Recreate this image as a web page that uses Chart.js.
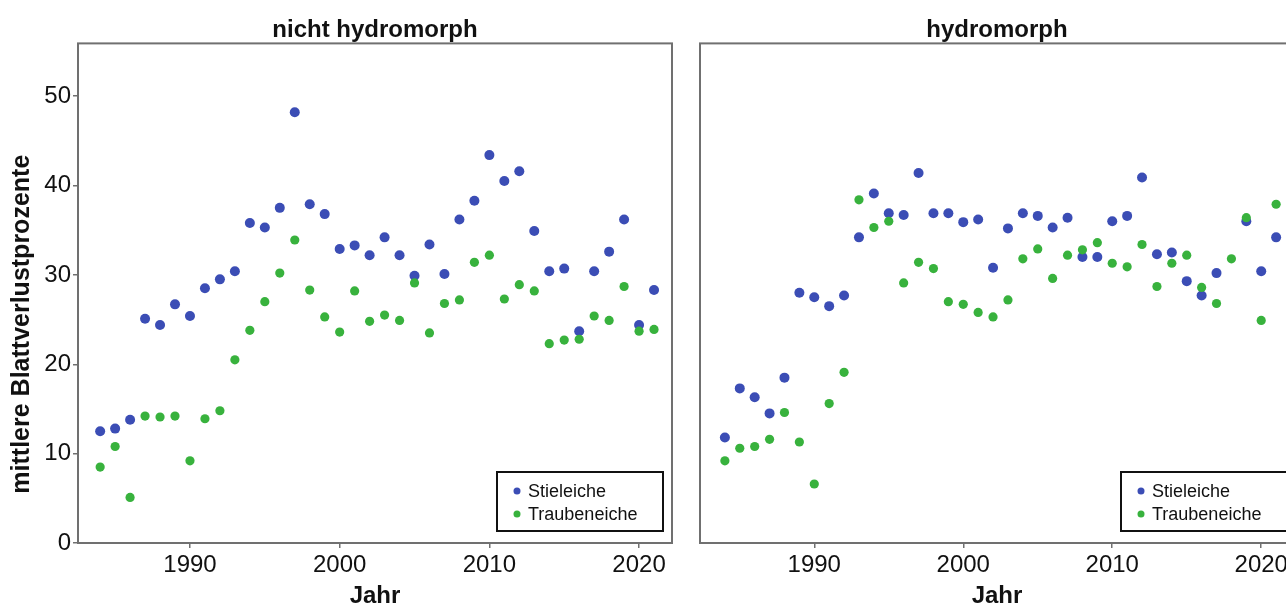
<!DOCTYPE html>
<html lang="de">
<head>
<meta charset="utf-8">
<title>Blattverlust Eichen</title>
<script src="https://cdn.jsdelivr.net/npm/chart.js@4.4.1/dist/chart.umd.min.js"></script>
<style>
  html, body { margin: 0; padding: 0; background: #fff; overflow: hidden; }
  #wrap { position: relative; width: 1286px; height: 608px; overflow: hidden; }
  canvas { position: absolute; top: 0; }
  #left { left: 0; }
  #right { left: 686px; }
</style>
</head>
<body>
<div id="wrap">
  <canvas id="left" width="750" height="608"></canvas>
  <canvas id="right" width="616" height="608"></canvas>
</div>
<script>
const years = [1984, 1985, 1986, 1987, 1988, 1989, 1990, 1991, 1992, 1993,
  1994, 1995, 1996, 1997, 1998, 1999, 2000, 2001, 2002, 2003,
  2004, 2005, 2006, 2007, 2008, 2009, 2010, 2011, 2012, 2013,
  2014, 2015, 2016, 2017, 2018, 2019, 2020, 2021];
const yearTicks = [1990, 2000, 2010, 2020];
const levelTicks = [0, 10, 20, 30, 40, 50];

// nicht hydromorph
const stielNicht = [12.5, 12.8, 13.8, 25.1, 24.4, 26.7, 25.4, 28.5, 29.5, 30.4,
  35.8, 35.3, 37.5, 48.2, 37.9, 36.8, 32.9, 33.3, 32.2, 34.2,
  32.2, 29.9, 33.4, 30.1, 36.2, 38.3, 43.4, 40.5, 41.6, 34.9,
  30.4, 30.7, 23.7, 30.4, 32.6, 36.2, 24.4, 28.3];
const traubeNicht = [8.5, 10.8, 5.1, 14.2, 14.1, 14.2, 9.2, 13.9, 14.8, 20.5,
  23.8, 27.0, 30.2, 33.9, 28.3, 25.3, 23.6, 28.2, 24.8, 25.5,
  24.9, 29.1, 23.5, 26.8, 27.2, 31.4, 32.2, 27.3, 28.9, 28.2,
  22.3, 22.7, 22.8, 25.4, 24.9, 28.7, 23.7, 23.9];

// hydromorph
const stielHydro = [11.8, 17.3, 16.3, 14.5, 18.5, 28.0, 27.5, 26.5, 27.7, 34.2,
  39.1, 36.9, 36.7, 41.4, 36.9, 36.9, 35.9, 36.2, 30.8, 35.2,
  36.9, 36.6, 35.3, 36.4, 32.0, 32.0, 36.0, 36.6, 40.9, 32.3,
  32.5, 29.3, 27.7, 30.2, null, 36.0, 30.4, 34.2];
const traubeHydro = [9.2, 10.6, 10.8, 11.6, 14.6, 11.3, 6.6, 15.6, 19.1, 38.4,
  35.3, 36.0, 29.1, 31.4, 30.7, 27.0, 26.7, 25.8, 25.3, 27.2,
  31.8, 32.9, 29.6, 32.2, 32.8, 33.6, 31.3, 30.9, 33.4, 28.7,
  31.3, 32.2, 28.6, 26.8, 31.8, 36.4, 24.9, 37.9];

const FONT = "'Liberation Sans', Arial, sans-serif";
const BLUE = '#3b4db5';
const GREEN = '#38b23d';
const FRAME = '#707070';

Chart.defaults.font.family = FONT;
Chart.defaults.color = '#111';

function points(values) {
  return years.map((x, i) => ({ x: x, y: values[i] })).filter(p => p.y != null);
}

// grey box round the plot area, the y axis caption and the framed legend
const panelDecor = {
  id: 'panelDecor',
  beforeDatasetsDraw(chart) {
    const { ctx, chartArea: a } = chart;
    ctx.save();
    ctx.strokeStyle = FRAME;
    ctx.lineWidth = 2;
    ctx.strokeRect(a.left, a.top, a.right - a.left, a.bottom - a.top);
    ctx.restore();
  },
  afterDraw(chart, args, opts) {
    const { ctx, chartArea: a } = chart;
    ctx.save();
    if (opts.yTitle) {
      ctx.translate(22, (a.top + a.bottom) / 2 + 31);
      ctx.rotate(-Math.PI / 2);
      ctx.font = 'bold 25px ' + FONT;
      ctx.fillStyle = '#111';
      ctx.textAlign = 'center';
      ctx.textBaseline = 'middle';
      ctx.fillText(opts.yTitle, 0, 0);
      ctx.setTransform(1, 0, 0, 1, 0, 0);
    }
    const x0 = a.left + opts.legendOffset, y0 = a.bottom - 71;
    ctx.fillStyle = '#fff';
    ctx.fillRect(x0, y0, 166, 59);
    ctx.strokeStyle = '#111';
    ctx.lineWidth = 2;
    ctx.strokeRect(x0, y0, 166, 59);
    ctx.font = '18px ' + FONT;
    ctx.textAlign = 'left';
    ctx.textBaseline = 'middle';
    chart.data.datasets.forEach((ds, i) => {
      const cy = y0 + 19 + i * 23;
      ctx.fillStyle = ds.backgroundColor;
      ctx.beginPath();
      ctx.arc(x0 + 20, cy, 3.5, 0, Math.PI * 2);
      ctx.fill();
      ctx.fillStyle = '#111';
      ctx.fillText(ds.label, x0 + 31, cy + 1);
    });
    ctx.restore();
  }
};

function makePanel(id, title, stiel, traube, cfg) {
  const yScale = cfg.yLabels ? {
    min: 0, max: 55.9,
    afterFit: s => { s.width = 78; },
    afterBuildTicks: s => { s.ticks = levelTicks.map(v => ({ value: v })); },
    ticks: { font: { size: 24 }, padding: 2 },
    grid: { drawOnChartArea: false, tickLength: 5, color: FRAME, lineWidth: 1.5 },
    border: { display: false }
  } : {
    min: 0, max: 55.9,
    afterFit: s => { s.width = 14; },
    ticks: { display: false },
    grid: { display: false },
    border: { display: false }
  };

  return new Chart(document.getElementById(id), {
    type: 'scatter',
    data: {
      datasets: [
        { label: 'Stieleiche', data: points(stiel), backgroundColor: BLUE, borderColor: BLUE,
          pointRadius: 5, borderWidth: 0, order: 2 },
        { label: 'Traubeneiche', data: points(traube), backgroundColor: GREEN, borderColor: GREEN,
          pointRadius: 4.6, borderWidth: 0, order: 1 }
      ]
    },
    options: {
      responsive: false,
      animation: false,
      layout: { padding: { left: 0, right: cfg.padRight, top: 0, bottom: 0 } },
      plugins: {
        legend: { display: false },
        tooltip: { enabled: false },
        title: {
          display: true, text: title, fullSize: false,
          font: { size: 24, weight: 'bold', lineHeight: 1.1 },
          padding: { top: 17, bottom: 0 }
        },
        panelDecor: { yTitle: cfg.yLabels ? 'mittlere Blattverlustprozente' : null,
          legendOffset: cfg.legendOffset }
      },
      scales: {
        x: {
          type: 'linear', min: cfg.xMin, max: 2022.2,
          afterFit: s => { s.height = 65; s.paddingLeft = 0; s.paddingRight = 0; },
          afterBuildTicks: s => { s.ticks = yearTicks.map(v => ({ value: v })); },
          ticks: { font: { size: 24 }, padding: 3, maxRotation: 0, autoSkip: false,
            callback: v => String(v) },
          grid: { drawOnChartArea: false, tickLength: 5, color: FRAME, lineWidth: 1.5 },
          border: { display: false },
          title: { display: true, text: 'Jahr', font: { size: 24, weight: 'bold', lineHeight: 1 }, padding: 0 }
        },
        y: yScale
      }
    },
    plugins: [panelDecor]
  });
}

makePanel('left', 'nicht hydromorph', stielNicht, traubeNicht,
  { xMin: 1982.52, padRight: 78, yLabels: true, legendOffset: 419 });
makePanel('right', 'hydromorph', stielHydro, traubeHydro,
  { xMin: 1982.33, padRight: 8, yLabels: false, legendOffset: 421 });
</script>
</body>
</html>
